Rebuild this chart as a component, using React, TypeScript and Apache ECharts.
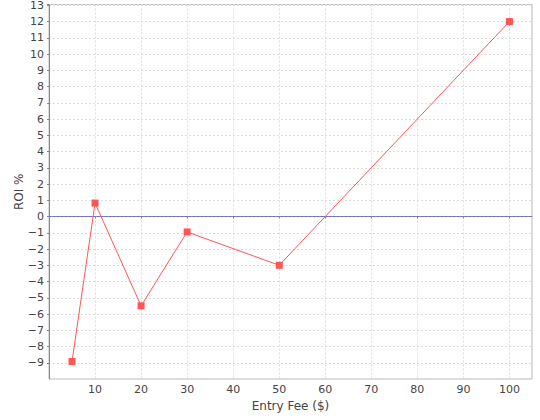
import React, { useEffect, useRef } from "react";
import * as echarts from "echarts";

const entryFees: number[] = [5, 10, 20, 30, 50, 100];
const roiValues: number[] = [-8.92, 0.83, -5.5, -0.95, -3.0, 12.0];
const xAxisTitle = "Entry Fee ($)";
const yAxisTitle = "ROI %";
const X_MIN = 0;
const X_MAX = 104.9;
const Y_MIN = -10;
const Y_MAX = 13.05;
const BASELINE = 0;

export default function App() {
  const ref = useRef<HTMLDivElement>(null);
  useEffect(() => {
    if (!ref.current) return;
    const chart = echarts.init(ref.current, null, { renderer: "svg" });
    const font = "DejaVu Sans";
    const gridLine = { show: true, lineStyle: { color: "#dcdcdc", type: [2, 2] as any, width: 1 } };
    chart.setOption({
      animation: false,
      backgroundColor: "#ffffff",
      grid: {
        left: 49, right: 8, top: 4.5, bottom: 41,
        containLabel: false,
        outerBoundsMode: "none",
        show: true, borderColor: "#b8b8b8", borderWidth: 1, backgroundColor: "#ffffff",
      },
      xAxis: {
        type: "value",
        min: X_MIN,
        max: X_MAX,
        interval: 10,
        name: xAxisTitle,
        nameLocation: "middle",
        nameGap: 21,
        nameMoveOverlap: false,
        nameTextStyle: { fontFamily: font, fontSize: 12, color: "#444444" },
        axisLine: { show: true, lineStyle: { color: "#888888", width: 1 } },
        axisTick: { show: true, length: 2, lineStyle: { color: "#888888" } },
        axisLabel: {
          fontFamily: font,
          fontSize: 11,
          color: "#444444",
          margin: 5,
          showMinLabel: false,
          showMaxLabel: false,
          formatter: (v: number) => (v === 0 || v > 100 ? "" : String(v)),
        },
        splitLine: gridLine,
      },
      yAxis: {
        type: "value",
        min: Y_MIN,
        max: Y_MAX,
        interval: 1,
        name: yAxisTitle,
        nameLocation: "middle",
        nameGap: 24,
        nameMoveOverlap: false,
        nameRotate: 90,
        nameTextStyle: { fontFamily: font, fontSize: 12, color: "#444444" },
        axisLine: { show: true, lineStyle: { color: "#888888", width: 1 } },
        axisTick: { show: true, length: 2, lineStyle: { color: "#888888" } },
        axisLabel: {
          fontFamily: font,
          fontSize: 11,
          color: "#444444",
          margin: 5,
          showMinLabel: false,
          formatter: (v: number) => (v === -10 || v > 13 ? "" : (v < 0 ? "\u2212" + Math.abs(v) : String(v))),
        },
        splitLine: gridLine,
      },
      series: [
        {
          type: "line",
          name: "baseline",
          data: [[X_MIN, BASELINE], [X_MAX, BASELINE]],
          symbol: "none",
          silent: true,
          lineStyle: { color: "#6868f0", type: [2, 2], width: 1 },
          z: 2,
        },
        {
          type: "line",
          data: entryFees.map((x, i) => [x, roiValues[i]]),
          symbol: "rect",
          symbolSize: 7,
          showAllSymbol: true,
          lineStyle: { color: "#ff5555", width: 1 },
          itemStyle: { color: "#ff5555" },
          z: 3,
        },
      ],
    });
    return () => chart.dispose();
  }, []);
  return <div ref={ref} style={{ width: 540, height: 420, position: "absolute", left: 0, top: 0 }} />;
}
